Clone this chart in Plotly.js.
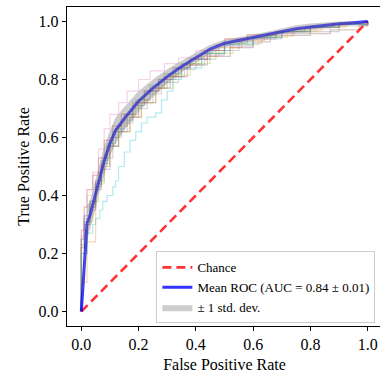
<!DOCTYPE html>
<html>
<head>
<meta charset="utf-8">
<script src="https://cdn.plot.ly/plotly-3.0.1.min.js"></script>
<style>
html,body{margin:0;padding:0;overflow:hidden;background:#fff;}
#chart{width:382px;height:375px;}
</style>
</head>
<body>
<div id="chart"></div>
<script>
// Per-fold ROC curves (false positive rate / true positive rate)
const foldColors = ['#1f77b4','#ff7f0e','#2ca02c','#d62728','#9467bd','#8c564b','#e377c2','#7f7f7f','#bcbd22','#17becf'];
const fold0Fpr = [0,0,0.01,0.01,0.03,0.05,0.07,0.09,0.11,0.14,0.18,0.22,0.27,0.33,0.38,0.45,0.52,0.6,0.7,0.8,0.9,1];
const fold0Tpr = [0,0.22,0.30,0.33,0.38,0.44,0.51,0.57,0.62,0.66,0.71,0.76,0.80,0.84,0.87,0.90,0.93,0.945,0.965,0.98,0.99,1];
const fold1Fpr = [0,0,0.02,0.05,0.06,0.08,0.1,0.13,0.16,0.2,0.24,0.29,0.35,0.41,0.48,0.56,0.64,0.74,0.84,0.93,1];
const fold1Tpr = [0,0.1,0.24,0.42,0.48,0.54,0.6,0.64,0.68,0.73,0.77,0.81,0.85,0.88,0.91,0.935,0.95,0.97,0.985,0.995,1];
const fold2Fpr = [0,0,0.01,0.03,0.05,0.07,0.09,0.12,0.15,0.19,0.24,0.29,0.35,0.42,0.5,0.58,0.68,0.78,0.88,1];
const fold2Tpr = [0,0.25,0.31,0.37,0.45,0.52,0.58,0.63,0.68,0.73,0.78,0.82,0.855,0.89,0.925,0.945,0.965,0.98,0.99,1];
const fold3Fpr = [0,0,0.01,0.02,0.04,0.06,0.08,0.11,0.14,0.18,0.22,0.27,0.32,0.38,0.44,0.5,0.58,0.68,0.8,0.9,1];
const fold3Tpr = [0,0.28,0.36,0.42,0.47,0.53,0.59,0.64,0.68,0.72,0.76,0.8,0.84,0.87,0.9,0.94,0.955,0.965,0.98,0.99,1];
const fold4Fpr = [0,0,0.02,0.03,0.05,0.07,0.1,0.13,0.16,0.2,0.25,0.3,0.36,0.43,0.5,0.6,0.7,0.8,0.9,1];
const fold4Tpr = [0,0.2,0.3,0.35,0.42,0.49,0.57,0.62,0.67,0.72,0.77,0.81,0.85,0.885,0.915,0.94,0.965,0.98,0.99,1];
const fold5Fpr = [0,0,0.01,0.03,0.05,0.07,0.1,0.13,0.17,0.21,0.26,0.31,0.37,0.44,0.52,0.6,0.66,0.8,0.87,0.97,1];
const fold5Tpr = [0,0.23,0.3,0.36,0.43,0.5,0.57,0.62,0.67,0.72,0.77,0.81,0.85,0.88,0.91,0.93,0.952,0.958,0.971,0.986,1];
const fold6Fpr = [0,0,0.01,0.02,0.04,0.06,0.08,0.1,0.13,0.16,0.2,0.24,0.29,0.34,0.4,0.47,0.55,0.65,0.75,0.87,1];
const fold6Tpr = [0,0.26,0.33,0.4,0.48,0.56,0.63,0.68,0.72,0.76,0.8,0.83,0.855,0.875,0.9,0.92,0.94,0.96,0.975,0.99,1];
const fold7Fpr = [0,0,0.01,0.03,0.05,0.08,0.11,0.14,0.18,0.23,0.28,0.34,0.4,0.47,0.55,0.63,0.68,0.8,0.9,1];
const fold7Tpr = [0,0.25,0.32,0.38,0.45,0.53,0.6,0.65,0.7,0.75,0.79,0.835,0.87,0.9,0.925,0.94,0.958,0.965,0.985,1];
const fold8Fpr = [0,0,0.02,0.04,0.06,0.08,0.1,0.13,0.17,0.21,0.26,0.32,0.38,0.45,0.53,0.62,0.72,0.82,0.92,1];
const fold8Tpr = [0,0.22,0.31,0.38,0.44,0.51,0.57,0.62,0.67,0.72,0.77,0.815,0.855,0.89,0.92,0.945,0.965,0.98,0.993,1];
const fold9Fpr = [0,0,0.02,0.04,0.05,0.065,0.075,0.09,0.11,0.12,0.13,0.15,0.17,0.19,0.21,0.23,0.26,0.28,0.3,0.32,0.35,0.42,0.5,0.6,0.7,0.8,0.9,1];
const fold9Tpr = [0,0.2,0.27,0.3,0.32,0.35,0.38,0.4,0.43,0.45,0.5,0.55,0.59,0.62,0.65,0.67,0.685,0.73,0.76,0.8,0.84,0.89,0.92,0.945,0.965,0.98,0.99,1];

// Mean ROC and its standard deviation
const meanFpr = [0,0.02,0.03,0.04,0.05,0.06,0.08,0.1,0.12,0.15,0.2,0.25,0.3,0.35,0.4,0.45,0.5,0.55,0.6,0.65,0.7,0.75,0.8,0.85,0.9,0.95,1];
const meanTpr = [0,0.305,0.33,0.37,0.405,0.45,0.52,0.58,0.625,0.665,0.725,0.77,0.81,0.845,0.875,0.905,0.925,0.935,0.945,0.955,0.967,0.975,0.981,0.987,0.992,0.996,1];
const stdTpr  = [0,0.06,0.05,0.05,0.05,0.05,0.05,0.045,0.045,0.04,0.035,0.03,0.025,0.02,0.018,0.015,0.012,0.01,0.01,0.01,0.01,0.012,0.012,0.01,0.008,0.005,0];

const chanceX = [0,1];
const chanceY = [0,1];
const legendNames = ['Chance','Mean ROC (AUC = 0.84 \u00b1 0.01)','\u00b1 1 std. dev.'];

const folds = [
  [fold0Fpr,fold0Tpr],[fold1Fpr,fold1Tpr],[fold2Fpr,fold2Tpr],[fold3Fpr,fold3Tpr],[fold4Fpr,fold4Tpr],
  [fold5Fpr,fold5Tpr],[fold6Fpr,fold6Tpr],[fold7Fpr,fold7Tpr],[fold8Fpr,fold8Tpr],[fold9Fpr,fold9Tpr]
];

const traces = [];
folds.forEach((f,i)=>{
  traces.push({x:f[0],y:f[1],type:'scatter',mode:'lines',line:{color:foldColors[i],width:1.2,shape:'hv'},opacity:0.33,showlegend:false,hoverinfo:'skip'});
});
traces.push({x:chanceX,y:chanceY,type:'scatter',mode:'lines',name:legendNames[0],line:{color:'rgba(255,0,0,0.8)',width:2.6,dash:'9px,5px'}});
traces.push({x:meanFpr,y:meanTpr,type:'scatter',mode:'lines',name:legendNames[1],line:{color:'rgba(0,0,255,0.8)',width:3}});
const upper = meanTpr.map((v,i)=>Math.min(v+stdTpr[i],1));
const lower = meanTpr.map((v,i)=>Math.max(v-stdTpr[i],0));
traces.push({x:meanFpr.concat(meanFpr.slice().reverse()),y:upper.concat(lower.slice().reverse()),type:'scatter',mode:'lines',fill:'toself',fillcolor:'rgba(128,128,128,0.4)',line:{width:0,color:'rgba(0,0,0,0)'},name:legendNames[2]});

const serif = 'Liberation Serif, Times New Roman, serif';
const axisCommon = {range:[-0.05,1.05],dtick:0.2,tick0:0,tickformat:'.1f',showgrid:false,zeroline:false,
  showline:true,linecolor:'#000',linewidth:1.2,mirror:true,ticks:'outside',ticklen:4,tickwidth:1,tickcolor:'#000',
  tickfont:{family:serif,size:16,color:'#000'}};
const layout = {
  width:382,height:375,
  margin:{l:67,r:0,t:7,b:49},
  paper_bgcolor:'#fff',plot_bgcolor:'#fff',
  font:{family:serif,color:'#000'},
  xaxis:Object.assign({},axisCommon,{title:{text:'False Positive Rate',font:{family:serif,size:16,color:'#000'},standoff:6}}),
  yaxis:Object.assign({},axisCommon,{title:{text:'True Positive Rate',font:{family:serif,size:16,color:'#000'},standoff:5}}),
  legend:{x:0.979,y:0.008,xanchor:'right',yanchor:'bottom',bgcolor:'rgba(255,255,255,0.8)',bordercolor:'#cccccc',borderwidth:1,
    font:{family:serif,size:13,color:'#000'},itemwidth:30,tracegroupgap:0},
  showlegend:true
};
Plotly.newPlot('chart',traces,layout,{staticPlot:true,displayModeBar:false});
</script>
</body>
</html>
